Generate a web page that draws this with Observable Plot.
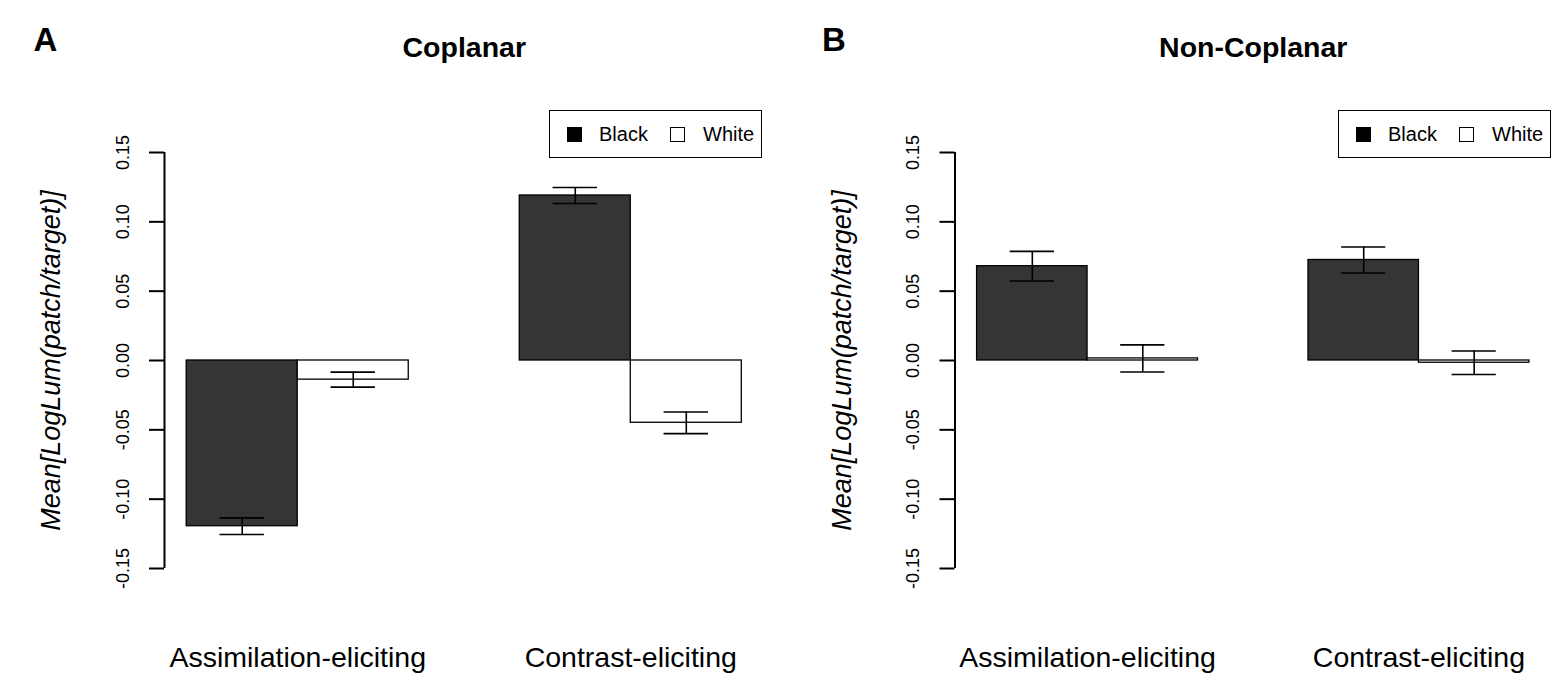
<!DOCTYPE html>
<html>
<head>
<meta charset="utf-8">
<script src="https://cdn.jsdelivr.net/npm/d3@7"></script>
<script src="https://cdn.jsdelivr.net/npm/@observablehq/plot@0.6"></script>
<style>
  html, body { margin: 0; padding: 0; background: #fff; }
  #wrap { position: relative; width: 1562px; height: 683px; overflow: hidden; background: #fff;
          font-family: "Liberation Sans", Arial, Helvetica, sans-serif; }
  .panel { position: absolute; top: 0; }
  .legend { position: absolute; top: 110px; height: 48px; width: 213px; box-sizing: border-box;
            border: 1.6px solid #000; background: #fff; font-size: 20px; color: #000; }
  .legend .sw { position: absolute; top: 16px; width: 15px; height: 15px; box-sizing: border-box; border: 1.5px solid #000; }
  .legend .lb { position: absolute; top: 12px; line-height: 22px; }
</style>
</head>
<body>
<div id="wrap"></div>
<script>
// ---- data ----
const categories = ["Assimilation-eliciting", "Contrast-eliciting"];
const series = ["Black", "White"];
const yTicks = [-0.15, -0.10, -0.05, 0.00, 0.05, 0.10, 0.15];
const yLabel = "Mean[LogLum(patch/target)]";

// Panel A: Coplanar
const coplanarBlack   = [-0.1195, 0.1190];
const coplanarWhite   = [-0.0138, -0.0449];
const coplanarBlackSE = [0.0060, 0.0058];
const coplanarWhiteSE = [0.0054, 0.0078];

// Panel B: Non-Coplanar
const nonCoplanarBlack   = [0.0680, 0.0725];
const nonCoplanarWhite   = [0.0015, -0.0016];
const nonCoplanarBlackSE = [0.0107, 0.0094];
const nonCoplanarWhiteSE = [0.0098, 0.0085];

const FONT = '"Liberation Sans", Arial, Helvetica, sans-serif';
const fmt = d => d.toFixed(2);

function buildRows(black, white, blackSE, whiteSE) {
  const rows = [];
  const groupSize = series.length + 1; // R barplot: beside=TRUE, space=c(0,1)
  categories.forEach((c, g) => {
    series.forEach((s, k) => {
      const mean = k === 0 ? black[g] : white[g];
      const se = k === 0 ? blackSE[g] : whiteSE[g];
      const x1 = g * groupSize + k + 1;
      rows.push({category: c, series: s, mean, se, x1, x2: x1 + 1, xc: x1 + 0.5,
                 lo: mean - se, hi: mean + se});
    });
  });
  return rows;
}

function panel({title, letter, rows, marginLeft, marginRight, letterDx}) {
  const nBars = categories.length * (series.length + 1);
  const xDomain = [1 - 0.04 * (nBars - 1), nBars + 0.04 * (nBars - 1)];
  return Plot.plot({
    width: 781,
    height: 683,
    marginTop: 152,
    marginBottom: 115,
    marginLeft,
    marginRight,
    style: {fontFamily: FONT, background: "#fff", overflow: "visible", color: "#000"},
    x: {domain: xDomain, axis: null},
    y: {domain: [yTicks[0], yTicks[yTicks.length - 1]], axis: null},
    marks: [
      Plot.rectY(rows, {
        x1: "x1", x2: "x2", y1: 0, y2: "mean",
        fill: d => d.series === "Black" ? "#353535" : "#ffffff",
        stroke: "#000", strokeWidth: 1.3
      }),
      Plot.ruleX(rows, {x: "xc", y1: "lo", y2: "hi", stroke: "#000", strokeWidth: 1.6}),
      Plot.ruleY(rows, {y: "hi", x1: d => d.xc - 0.2, x2: d => d.xc + 0.2, stroke: "#000", strokeWidth: 1.6}),
      Plot.ruleY(rows, {y: "lo", x1: d => d.xc - 0.2, x2: d => d.xc + 0.2, stroke: "#000", strokeWidth: 1.6}),
      // y axis
      Plot.ruleX([xDomain[0]], {y1: yTicks[0], y2: yTicks[yTicks.length - 1], stroke: "#000", strokeWidth: 2}),
      Plot.axisY(yTicks, {tickSize: 15, tickFormat: () => "", stroke: "#000", strokeWidth: 2}),
      Plot.text(yTicks, {
        y: d => d, text: fmt, frameAnchor: "left", rotate: -90,
        textAnchor: "middle", lineAnchor: "bottom", dx: -36, fontSize: 18, fill: "#000"
      }),
      Plot.text([yLabel], {
        text: d => d, frameAnchor: "left", rotate: -90, textAnchor: "middle",
        lineAnchor: "middle", dx: -113, fontSize: 27, fontStyle: "italic", fill: "#000"
      }),
      // category labels
      Plot.text(categories, {
        x: (d, i) => i * (series.length + 1) + 1 + series.length / 2,
        text: d => d, frameAnchor: "bottom", dy: 89, lineAnchor: "middle",
        fontSize: 28.5, fill: "#000"
      }),
      // title and panel letter
      Plot.text([title], {
        text: d => d, frameAnchor: "top", dy: -105, lineAnchor: "middle",
        fontSize: 28.5, fontWeight: "bold", fill: "#000"
      }),
      Plot.text([letter], {
        text: d => d, frameAnchor: "top-left", dx: letterDx, dy: -112, textAnchor: "start",
        lineAnchor: "middle", fontSize: 33, fontWeight: "bold", fill: "#000"
      })
    ]
  });
}

function legend(left) {
  const lg = document.createElement("div");
  lg.className = "legend";
  lg.style.left = left + "px";
  const items = [
    {name: series[0], fill: "#000", sw: 17, lb: 49},
    {name: series[1], fill: "#fff", sw: 120, lb: 153}
  ];
  for (const it of items) {
    const sw = document.createElement("div");
    sw.className = "sw";
    sw.style.left = it.sw + "px";
    sw.style.background = it.fill;
    const lb = document.createElement("div");
    lb.className = "lb";
    lb.style.left = it.lb + "px";
    lb.textContent = it.name;
    lg.append(sw, lb);
  }
  return lg;
}

const wrap = document.getElementById("wrap");

const pA = panel({
  title: "Coplanar", letter: "A",
  rows: buildRows(coplanarBlack, coplanarWhite, coplanarBlackSE, coplanarWhiteSE),
  marginLeft: 164, marginRight: 17.5, letterDx: -131
});
pA.classList.add("panel");
pA.style.left = "0px";

const pB = panel({
  title: "Non-Coplanar", letter: "B",
  rows: buildRows(nonCoplanarBlack, nonCoplanarWhite, nonCoplanarBlackSE, nonCoplanarWhiteSE),
  marginLeft: 173.5, marginRight: 11, letterDx: -133
});
pB.classList.add("panel");
pB.style.left = "781px";

wrap.append(pA, pB, legend(549), legend(1338));
</script>
</body>
</html>
